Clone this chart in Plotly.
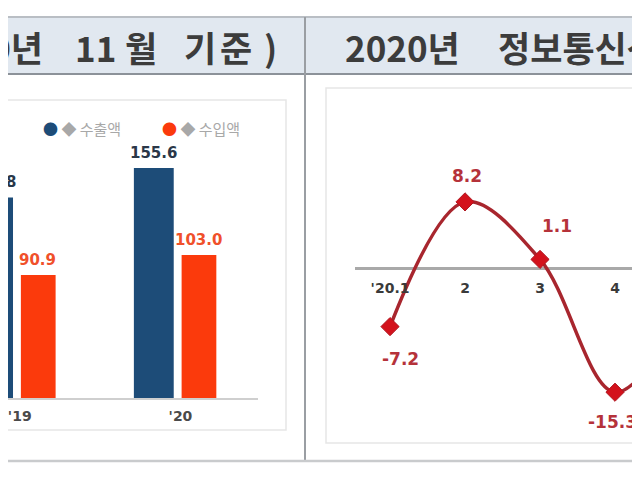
import plotly.graph_objects as go

# 왼쪽: 수출입 금액 (억 달러)
years = ["'19", "'20"]
exports = [137.8, 155.6]
imports = [90.9, 103.0]

# 오른쪽: 월별 수출 증감률 (%)
months = ["'20.1", "2", "3", "4", "5"]
growth = [-7.2, 8.2, 1.1, -15.3, -4.0]
# label offsets in pixels (dx, dy) from each point
label_shift = [(10, -32), (2, 26), (17, 33), (-3, -30), (0, 26)]

# page body has an 8px margin, so the figure is drawn 8px in
OFF = 8
W, H = 640 - OFF, 480 - OFF


def px(x):
    return (x - OFF) / W


def py(y):
    return 1 - (y - OFF) / H


fig = go.Figure()

bar_series = [
    (exports, "수출액", -0.26, 0.248, "#1d4c78", "#2a3748", -22),
    (imports, "수입액", 0.037, 0.216, "#fb3a0c", "#f0502a", 23),
]
annotations = []
for vals, name, off, wid, col, tcol, shift in bar_series:
    fig.add_trace(go.Bar(
        x=[0, 1], y=vals, name=name, offset=off, width=wid,
        marker=dict(color=col, line=dict(width=0)),
        xaxis="x", yaxis="y",
    ))
    # value labels (annotations so the clipped '19 bar keeps its label)
    for i, v in enumerate(vals):
        annotations.append(dict(
            text=f"{v:.1f}", x=i, y=v, xref="x", yref="y",
            xshift=shift, yshift=15, showarrow=False, xanchor="center", yanchor="middle",
            font=dict(family="DejaVu Sans", size=15, color=tcol, weight="bold"),
        ))

fig.add_trace(go.Scatter(
    x=[1, 2, 3, 4, 5], y=growth, mode="lines+markers",
    line=dict(color="#a8262e", width=3.5, shape="spline", smoothing=1),
    marker=dict(symbol="diamond", size=14, color="#d3121c", line=dict(color="#b01822", width=1)),
    cliponaxis=False,
    xaxis="x2", yaxis="y2",
))

for i, (v, (dx, dy)) in enumerate(zip(growth, label_shift)):
    annotations.append(dict(
        text=f"{v:.1f}", x=i + 1, y=v, xref="x2", yref="y2",
        xshift=dx, yshift=dy, showarrow=False, xanchor="center", yanchor="middle",
        font=dict(family="DejaVu Sans", size=17, color="#b5323a", weight="bold"),
    ))

shapes = [
    # header band
    dict(type="rect", xref="paper", yref="paper", x0=0, x1=1, y0=py(73), y1=py(17),
         fillcolor="#e1e8f0", line=dict(width=0), layer="below"),
    dict(type="line", xref="paper", yref="paper", x0=0, x1=1, y0=py(17), y1=py(17),
         line=dict(color="#b9bec4", width=2)),
    dict(type="line", xref="paper", yref="paper", x0=0, x1=1, y0=py(74), y1=py(74),
         line=dict(color="#8c9299", width=2)),
    # divider and bottom
    dict(type="line", xref="paper", yref="paper", x0=px(305), x1=px(305), y0=py(17), y1=py(461),
         line=dict(color="#9a9ea3", width=2)),
    dict(type="line", xref="paper", yref="paper", x0=0, x1=1, y0=py(461), y1=py(461),
         line=dict(color="#c9cbcd", width=2.5)),
    # inner boxes
    dict(type="rect", xref="paper", yref="paper", x0=px(-5), x1=px(286), y0=py(430), y1=py(100),
         line=dict(color="#e6e6e6", width=1.5), layer="below"),
    dict(type="rect", xref="paper", yref="paper", x0=px(326), x1=px(660), y0=py(443), y1=py(88),
         line=dict(color="#e6e6e6", width=1.5), layer="below"),
]

hdr_font = dict(family="Noto Sans CJK KR", size=35, color="#3c3c3c", weight="bold")
headers = [
    ("(2020년", 45, "right"),
    ("11", 73, "left"),
    ("월", 123, "left"),
    ("기", 182, "left"),
    ("준", 218, "left"),
    (")", 262, "left"),
    ("2020년", 343, "left"),
    ("정보통신산업 수출", 496, "left"),
]
for txt, x, anc in headers:
    annotations.append(dict(text=txt, x=px(x), y=py(46), xanchor=anc, yanchor="middle",
                            xref="paper", yref="paper", showarrow=False, font=hdr_font))

leg_font = dict(family="Noto Sans CJK KR", size=15, color="#a8a8a8")
annotations += [
    dict(text="<span style='color:#1d4c78'>●</span> ◆ 수출액", x=px(41), y=py(129),
         xref="paper", yref="paper", xanchor="left", yanchor="middle", showarrow=False, font=leg_font),
    dict(text="<span style='color:#fb3a0c'>●</span> ◆ 수입액", x=px(160), y=py(129),
         xref="paper", yref="paper", xanchor="left", yanchor="middle", showarrow=False, font=leg_font),
]

fig.update_layout(
    width=W, height=H,
    margin=dict(l=0, r=0, t=0, b=0, autoexpand=False),
    paper_bgcolor="white", plot_bgcolor="rgba(0,0,0,0)",
    barmode="overlay", showlegend=False,
    shapes=shapes, annotations=annotations,
    xaxis=dict(domain=[px(8), px(258)], range=[-0.0432, 1.5123], automargin=False,
               tickvals=[0.03, 1.03], ticktext=years, showgrid=False, zeroline=False,
               showline=True, linecolor="#cfcfcf", linewidth=2,
               ticks="outside", ticklen=4, tickcolor="rgba(0,0,0,0)",
               ticklabeloverflow="allow",
               tickfont=dict(family="DejaVu Sans", size=14, color="#4a4a4a", weight="bold")),
    yaxis=dict(domain=[py(398), py(140)], range=[16.5, 172.5], visible=False, automargin=False),
    xaxis2=dict(domain=[px(355), 1], range=[0.533, 4.333], anchor="free", position=py(268),
                automargin=False,
                tickvals=[1, 2, 3, 4, 5], ticktext=months, showgrid=False, zeroline=False,
                showline=False, ticks="outside", ticklen=7, tickcolor="rgba(0,0,0,0)",
                ticklabeloverflow="allow",
                tickfont=dict(family="DejaVu Sans", size=14, color="#3a3a3a", weight="bold")),
    yaxis2=dict(domain=[py(440), py(95)], range=[-21.2, 21.4], anchor="x2", automargin=False,
                showgrid=False, showticklabels=False, zeroline=True,
                zerolinecolor="#a9a9a9", zerolinewidth=3),
)

fig.write_html("out.html")
